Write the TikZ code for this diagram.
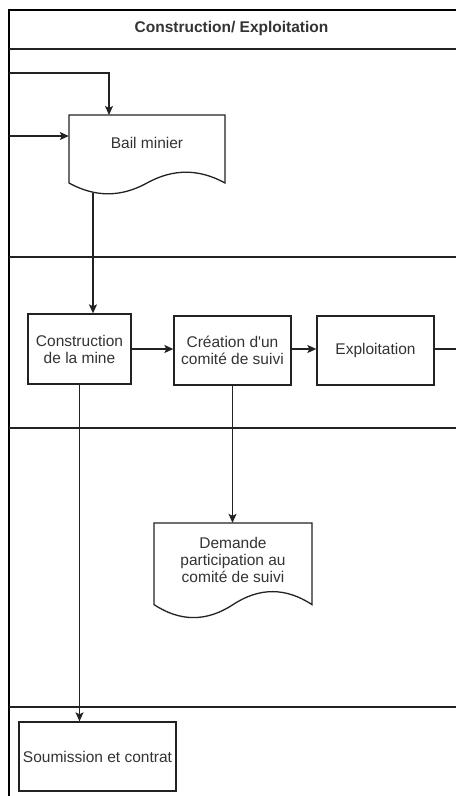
\documentclass[tikz,border=0pt]{standalone}
\usepackage{fontspec}
\setmainfont{Liberation Sans}[Ligatures=TeXOff]
\usetikzlibrary{arrows.meta,calc}
\definecolor{txt}{HTML}{333333}
\definecolor{ln}{HTML}{222222}
\begin{document}
\begin{tikzpicture}[x=1pt,y=-1pt,
  lbl/.style={font=\fontsize{15.5}{17}\selectfont, text=txt, align=center, inner sep=0pt},
  box/.style={lbl, draw=ln, line width=1.3pt, rectangle},
  doc/.style={draw=ln, line width=1.3pt, fill=white},
  lane/.style={draw=ln, line width=1.4pt},
  arr/.style={draw=ln, line width=1.3pt, -{Stealth[length=9pt,width=8pt,inset=2pt]}},
  plain/.style={draw=ln, line width=1.3pt}]
\useasboundingbox (0,0) rectangle (456,796);
% frame
\draw[black, line width=2pt] (456,10) -- (9,10);
\draw[black, line width=2.6pt] (9,9) -- (9,796);
\draw[lane] (9,49) -- (456,49);
\draw[lane] (9,257) -- (456,257);
\draw[lane] (9,428) -- (456,428);
\draw[lane] (9,707) -- (456,707);
\node[lbl, font=\fontsize{15.5}{17}\selectfont\bfseries] (title) at (231.5,28) {Construction/ Exploitation};
% Bail minier document
\draw[doc] (69,115) -- (225,115) -- (225,183) .. controls (199,168.6) and (173,168.6) .. (147,183)
  .. controls (121,197.4) and (95,197.4) .. (69,183) -- cycle;
\node[rectangle, minimum width=156pt, minimum height=80pt, inner sep=0pt] (bail) at (147,155) {};
\node[lbl] (bailtxt) at (147,143) {Bail minier};
% Demande document
\draw[doc] (154,523) -- (312,523) -- (312,604.6) .. controls (285.7,587.3) and (259.3,587.3) .. (233,604.6)
  .. controls (206.7,621.9) and (180.3,621.9) .. (154,604.6) -- cycle;
\node[rectangle, minimum width=158pt, minimum height=96pt, inner sep=0pt] (dem) at (233,571) {};
\node[lbl] (demtxt) at (233,560) {Demande\\participation au\\comité de suivi};
% boxes
\node[box, minimum width=103pt, minimum height=70pt] (cons) at (79.5,349) {Construction\\de la mine};
\node[box, minimum width=117pt, minimum height=69pt] (crea) at (232.5,350.5) {Création d'un\\comité de suivi};
\node[box, minimum width=117pt, minimum height=69pt] (expl) at (375.5,350.5) {Exploitation};
\node[box, minimum width=157pt, minimum height=69pt] (soum) at (97.5,756.5) {Soumission et contrat};
% connectors
\coordinate (in1) at (9,73);
\coordinate (in2) at (9,136);
\coordinate (bailin) at (109,115);
\coordinate (bailout) at (93,193);
\coordinate (out1) at (456,349);
\draw[arr] (in1) -| (bailin);
\draw[arr] (in2) -- (in2 -| bail.west);
\draw[arr] (bailout) -- (bailout |- cons.north);
\draw[arr] (cons.east |- 0,349) -- (crea.west |- 0,349);
\draw[arr] (crea.east |- 0,349) -- (expl.west |- 0,349);
\draw[plain] (expl.east |- out1) -- (out1);
\draw[arr] (crea.south) -- (crea.south |- dem.north);
\draw[arr] (cons.south) -- (cons.south |- soum.north);
\end{tikzpicture}
\end{document}
